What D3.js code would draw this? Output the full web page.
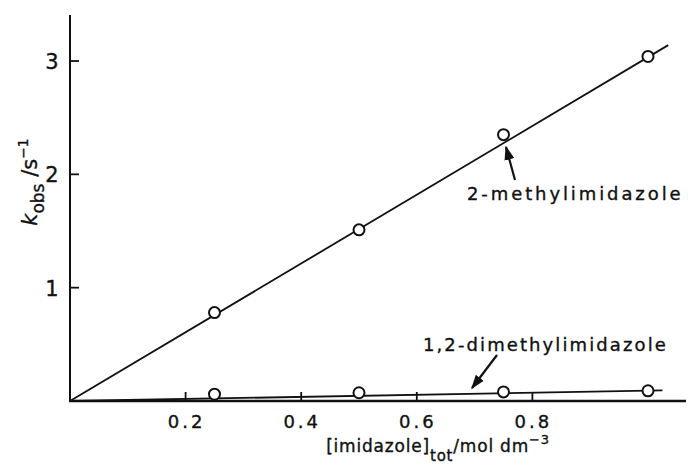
<!DOCTYPE html>
<html>
<head>
<meta charset="utf-8">
<script src="https://cdn.jsdelivr.net/npm/d3@7"></script>
<style>
body { margin: 0; background: #fff; }
text { font-family: "DejaVu Sans", sans-serif; fill: #111; stroke: #111; stroke-width: 0.35; }
</style>
</head>
<body>
<div id="chart"></div>
<script>
// data
const conc = [0.25, 0.5, 0.75, 1.0];
const kMethyl = [0.78, 1.51, 2.35, 3.04];
const kDimethyl = [0.06, 0.073, 0.08, 0.09];
// fitted lines (from origin)
const fitMethyl = [[0, 0], [1.035, 3.14]];
const fitDimethyl = [[0, 0], [1.025, 0.093]];
const xTicks = [0.2, 0.4, 0.6, 0.8];
const yTicks = [1, 2, 3];

const width = 688, height = 472;
const svg = d3.select("#chart").append("svg")
  .attr("width", width).attr("height", height);

const x = d3.scaleLinear().domain([0, 1]).range([70, 648]);
const y = d3.scaleLinear().domain([0, 3]).range([401, 61]);

// axes
svg.append("line").attr("x1", 70).attr("x2", 70).attr("y1", 15).attr("y2", 402)
  .attr("stroke", "#111").attr("stroke-width", 2);
svg.append("line").attr("x1", 69).attr("x2", 686).attr("y1", 401).attr("y2", 401)
  .attr("stroke", "#111").attr("stroke-width", 2.4);

// y ticks point inward
svg.selectAll(".yt").data(yTicks).join("line")
  .attr("x1", 70).attr("x2", 79)
  .attr("y1", d => y(d)).attr("y2", d => y(d))
  .attr("stroke", "#111").attr("stroke-width", 1.8);
svg.selectAll(".yl").data(yTicks).join("text")
  .attr("x", 52).attr("y", d => y(d) + 8)
  .attr("text-anchor", "middle").attr("font-size", 21)
  .text(d => d);

// x ticks
svg.selectAll(".xt").data(xTicks).join("line")
  .attr("x1", d => x(d)).attr("x2", d => x(d))
  .attr("y1", 392).attr("y2", 401)
  .attr("stroke", "#111").attr("stroke-width", 1.8);
svg.selectAll(".xl").data(xTicks).join("text")
  .attr("x", d => x(d) + 1).attr("y", 428)
  .attr("text-anchor", "middle").attr("font-size", 18)
  .attr("letter-spacing", 3)
  .text(d => d3.format(".1f")(d));

// fit lines
const line = d3.line().x(d => x(d[0])).y(d => y(d[1]));
[fitMethyl, fitDimethyl].forEach(f => {
  svg.append("path").attr("d", line(f))
    .attr("fill", "none").attr("stroke", "#111").attr("stroke-width", 1.8);
});

// points
[kMethyl, kDimethyl].forEach(ks => {
  svg.selectAll(null).data(conc.map((c, i) => [c, ks[i]])).join("circle")
    .attr("cx", d => x(d[0])).attr("cy", d => y(d[1])).attr("r", 5.5)
    .attr("fill", "#fff").attr("stroke", "#111").attr("stroke-width", 2);
});

// arrowheads
svg.append("defs").append("marker")
  .attr("id", "ah").attr("viewBox", "0 0 10 10").attr("refX", 9).attr("refY", 5)
  .attr("markerWidth", 6.5).attr("markerHeight", 6.5).attr("orient", "auto")
  .attr("markerUnits", "strokeWidth")
  .append("path").attr("d", "M0,1.5 L10,5 L0,8.5 Z").attr("fill", "#111");

svg.append("line").attr("x1", 515).attr("y1", 180).attr("x2", 506).attr("y2", 147)
  .attr("stroke", "#111").attr("stroke-width", 2.2).attr("marker-end", "url(#ah)");
svg.append("line").attr("x1", 497).attr("y1", 355).attr("x2", 472).attr("y2", 388)
  .attr("stroke", "#111").attr("stroke-width", 2.2).attr("marker-end", "url(#ah)");

svg.append("text").attr("x", 467).attr("y", 200).attr("font-size", 18)
  .attr("letter-spacing", 2.9).text("2-methylimidazole");
svg.append("text").attr("x", 423).attr("y", 351).attr("font-size", 18)
  .attr("letter-spacing", 2.1).text("1,2-dimethylimidazole");

// x label
const xl = svg.append("text").attr("x", 438).attr("y", 452)
  .attr("text-anchor", "middle").attr("font-size", 17).attr("letter-spacing", 0.8);
xl.append("tspan").text("[imidazole]");
xl.append("tspan").attr("dy", 9).attr("font-size", 15).text("tot");
xl.append("tspan").attr("dy", -9).text("/mol dm");
xl.append("tspan").attr("dy", -8).attr("font-size", 13).text("−3");

// y label
const yl = svg.append("text").attr("transform", "translate(37,182) rotate(-90)")
  .attr("text-anchor", "middle").attr("font-size", 21);
yl.append("tspan").attr("font-style", "italic").text("k");
yl.append("tspan").attr("dy", 7).attr("font-size", 17).text("obs");
yl.append("tspan").attr("dy", -7).text(" /s");
yl.append("tspan").attr("dy", -9).attr("font-size", 14).text("−1");
</script>
</body>
</html>
